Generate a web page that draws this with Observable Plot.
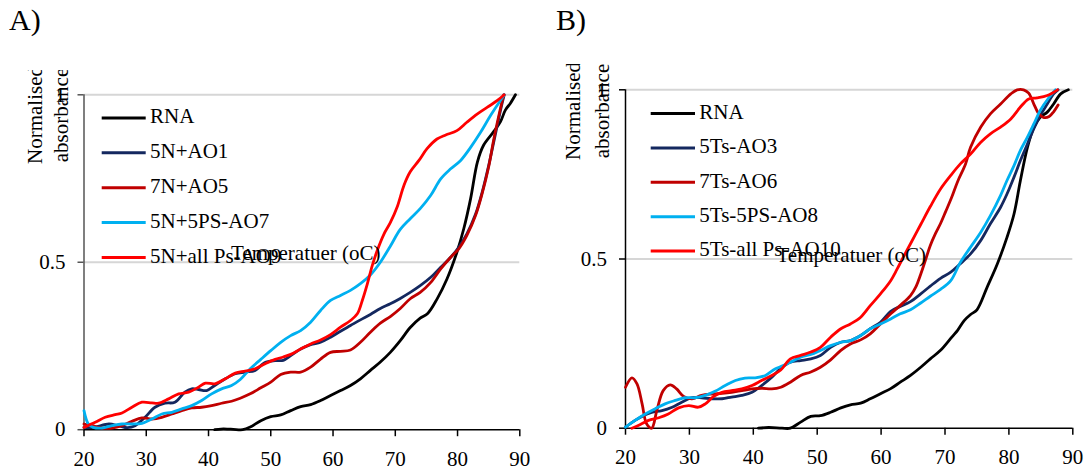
<!DOCTYPE html>
<html><head><meta charset="utf-8">
<script src="https://cdn.jsdelivr.net/npm/d3@7"></script>
<script src="https://cdn.jsdelivr.net/npm/@observablehq/plot@0.6"></script>
<style>
body{margin:0;background:#fff;}
#wrap{position:relative;width:1086px;height:472px;overflow:hidden;background:#fff;}
#wrap .panel{position:absolute;top:0;}
#overlay{position:absolute;left:0;top:0;pointer-events:none;}
</style></head><body><div id="wrap"></div>
<script>
// ---- tick labels / categories ----
const xTicks = [20, 30, 40, 50, 60, 70, 80, 90];
const yTicks = [0, 0.5, 1];
const namesA = ["RNA", "5N+AO1", "7N+AO5", "5N+5PS-AO7", "5N+all Ps-AO9"];
const namesB = ["RNA", "5Ts-AO3", "7Ts-AO6", "5Ts-5PS-AO8", "5Ts-all Ps-AO10"];
const colors = ["#000000", "#14285f", "#c00000", "#00b0f0", "#ff0000"];
const panelTitles = ["A)", "B)"];
const xTitle = "Temperatuer (oC)";
const yTitle = ["Normalised", "absorbance"];

// ---- Panel A series: [temperature, normalised absorbance] ----
const rnaA = [[41,0],[42,0.002],[43,0.002],[44,0.001],[45.5,0],[46.7,0.008],[48.4,0.027],[50,0.039],[51.6,0.044],[53.2,0.057],[54.8,0.069],[56.4,0.075],[58,0.087],[59.6,0.102],[61.2,0.117],[62.8,0.132],[64.4,0.152],[66,0.177],[67.6,0.202],[69.2,0.231],[70.8,0.266],[72.4,0.305],[74,0.333],[75.2,0.347],[76.7,0.39],[78.3,0.45],[79.9,0.53],[81,0.6],[82.1,0.69],[83.2,0.8],[84.2,0.85],[85.8,0.89],[86.9,0.92],[87.7,0.955],[88.5,0.975],[89.3,1]];
const ao1 = [[20,0.007],[21.5,0.007],[24,0.017],[25.5,0.012],[27,0.006],[28.2,0.012],[29.8,0.037],[31.4,0.067],[33,0.079],[34.6,0.082],[36.2,0.112],[37.3,0.122],[38.4,0.12],[39.7,0.117],[41,0.132],[42.7,0.152],[44.3,0.167],[45.9,0.172],[47.5,0.177],[49,0.2],[50.7,0.206],[52,0.207],[53.2,0.221],[54.8,0.241],[56.4,0.254],[58,0.261],[59.6,0.276],[61.2,0.294],[62.8,0.311],[64.4,0.328],[66,0.344],[67.6,0.362],[69.2,0.376],[70.8,0.392],[72.4,0.41],[74,0.43],[75.7,0.455],[77.3,0.485],[78.9,0.515],[80.2,0.545],[81.5,0.585],[82.9,0.644],[83.95,0.709],[85,0.789],[85.8,0.858],[86.6,0.928],[87.2,0.978],[87.5,1]];
const ao5 = [[20,0.017],[21.3,0.012],[22.9,0.005],[24.5,0.005],[26.1,0.012],[27.7,0.025],[29.3,0.035],[30.9,0.032],[32.5,0.037],[34.1,0.047],[35.7,0.057],[37.3,0.065],[38.9,0.067],[40.5,0.072],[42.1,0.079],[43.7,0.085],[45.1,0.094],[46.7,0.107],[48.4,0.125],[50,0.142],[51.6,0.165],[53.2,0.172],[54.8,0.172],[56.4,0.187],[58,0.211],[59.6,0.231],[61.2,0.234],[62.8,0.238],[64.4,0.261],[66,0.291],[67.6,0.318],[69.2,0.338],[70.8,0.362],[72.4,0.391],[74,0.41],[75.7,0.44],[77.3,0.48],[78.9,0.515],[80.2,0.54],[81.5,0.58],[82.9,0.64],[83.95,0.705],[85,0.785],[85.8,0.865],[86.6,0.935],[87.4,1]];
const ao7 = [[20,0.057],[20.7,0.017],[21.5,0.007],[22.9,0.005],[24.5,0.012],[26.1,0.017],[27.7,0.017],[29.3,0.019],[30.9,0.032],[32.5,0.047],[34.1,0.052],[35.7,0.062],[37.3,0.072],[38.9,0.087],[40.5,0.107],[42.1,0.122],[43.7,0.132],[45.1,0.15],[46.7,0.182],[48.4,0.21],[50,0.236],[51.6,0.261],[53.2,0.281],[54.8,0.296],[56.4,0.321],[58,0.356],[59.6,0.386],[61.2,0.401],[62.8,0.416],[64.4,0.436],[66,0.462],[67.6,0.5],[69.2,0.548],[70.8,0.598],[72.4,0.63],[74,0.66],[75.7,0.7],[77.3,0.749],[78.9,0.779],[80.5,0.804],[82.1,0.843],[83.7,0.888],[85.3,0.938],[87.5,1]];
const ao9 = [[20,0.007],[21.8,0.022],[23.4,0.037],[25,0.045],[26.1,0.05],[27.7,0.067],[29.3,0.082],[30.9,0.08],[32,0.079],[33.6,0.092],[35.2,0.107],[36.8,0.112],[38.4,0.127],[39.5,0.139],[41,0.137],[42.7,0.152],[44.3,0.169],[45.9,0.175],[47.5,0.182],[49.1,0.197],[50.7,0.21],[52,0.217],[53.2,0.225],[54.8,0.241],[56.4,0.256],[58,0.268],[59.6,0.284],[61.2,0.306],[62.8,0.326],[63.9,0.346],[64.7,0.386],[65.5,0.435],[66.3,0.49],[67.1,0.535],[68.2,0.585],[69.2,0.618],[70.3,0.665],[71.4,0.73],[72.4,0.77],[73.8,0.804],[75.1,0.839],[76.7,0.868],[78.1,0.88],[79.9,0.893],[81.5,0.918],[83.2,0.943],[84.8,0.963],[86.4,0.983],[87.5,1]];

// ---- Panel B series ----
const rnaB = [[40.8,0],[42.4,0.002],[44.5,0],[45.8,0],[47.4,0.018],[49,0.035],[50.5,0.037],[52.1,0.047],[53.7,0.06],[55.2,0.069],[56.8,0.074],[58.3,0.087],[59.9,0.102],[61.5,0.117],[63,0.136],[64.6,0.156],[66.2,0.18],[67.7,0.205],[69.3,0.23],[71.1,0.27],[72,0.29],[73,0.318],[74,0.336],[75,0.35],[76.6,0.417],[78.2,0.486],[79.7,0.564],[80.8,0.633],[81.8,0.732],[82.9,0.83],[83.9,0.889],[84.9,0.919],[86,0.934],[87,0.958],[88.1,0.988],[89.3,1]];
const ao3 = [[20,0.003],[21.5,0.023],[23.1,0.04],[24.1,0.047],[25.7,0.052],[27.3,0.062],[28.8,0.077],[30.4,0.09],[31.9,0.09],[33.5,0.087],[35.1,0.087],[36.6,0.092],[38.2,0.097],[39.8,0.106],[41.3,0.126],[42.9,0.151],[44.3,0.177],[45.8,0.195],[47.4,0.2],[49,0.205],[50.5,0.215],[52.1,0.239],[53.7,0.254],[55.2,0.259],[56.8,0.274],[58.3,0.294],[59.9,0.313],[61.5,0.345],[63,0.36],[64.6,0.374],[66.2,0.397],[67.7,0.42],[69.3,0.443],[70.9,0.461],[72.4,0.486],[74,0.515],[75.6,0.555],[77.1,0.604],[78.7,0.653],[79.7,0.692],[80.8,0.742],[81.8,0.791],[82.9,0.84],[83.9,0.885],[84.9,0.924],[86,0.958],[87,0.988],[87.7,1]];
const ao6 = [[20,0.121],[21,0.149],[21.8,0.131],[22.6,0.072],[23.3,0.013],[24.1,0],[24.9,0.052],[25.9,0.111],[27,0.128],[28,0.116],[29.1,0.094],[30.4,0.087],[31.9,0.097],[33.5,0.101],[35.1,0.103],[36.6,0.106],[38.2,0.111],[39.8,0.116],[41.3,0.118],[42.9,0.116],[44.3,0.121],[45.8,0.136],[47.4,0.156],[49,0.166],[50.5,0.18],[52.1,0.202],[53.7,0.23],[55.2,0.249],[56.8,0.261],[58.3,0.279],[59.9,0.308],[61.5,0.338],[63,0.363],[64.6,0.392],[65.5,0.42],[66.2,0.455],[67,0.5],[67.7,0.54],[68.5,0.575],[69.3,0.605],[70.1,0.64],[71,0.68],[72,0.73],[73.2,0.78],[74,0.83],[75.6,0.89],[77.1,0.929],[78.7,0.958],[80.3,0.988],[81.3,1],[82.3,1],[83.1,0.99],[83.9,0.958],[84.7,0.929],[85.5,0.918],[86.3,0.921],[87,0.935],[87.7,0.955]];
const ao8 = [[20,0.003],[21.5,0.023],[23.1,0.042],[24.6,0.057],[26.2,0.072],[27.8,0.082],[29.3,0.09],[30.9,0.09],[32.5,0.097],[34,0.109],[35.6,0.126],[37.2,0.141],[38.7,0.148],[40.3,0.149],[41.9,0.156],[43.4,0.175],[44.3,0.182],[45.8,0.195],[47.4,0.21],[49,0.218],[50.5,0.23],[52.1,0.244],[53.7,0.254],[55.2,0.259],[56.8,0.274],[58.3,0.294],[59.9,0.308],[61.5,0.323],[63,0.338],[64.6,0.35],[66.2,0.37],[67.7,0.39],[69.3,0.41],[70.9,0.436],[72.4,0.49],[74,0.535],[75.6,0.579],[77.1,0.628],[78.7,0.688],[79.7,0.732],[80.8,0.776],[81.8,0.821],[82.9,0.86],[83.9,0.899],[84.9,0.939],[86.3,0.978],[87.3,1]];
const ao10 = [[21,0],[22,0.008],[23.6,0.023],[25.2,0.031],[26.7,0.042],[28.3,0.06],[29.9,0.067],[31.4,0.062],[32.5,0.072],[33.8,0.094],[35.1,0.106],[36.6,0.111],[38.2,0.116],[39.8,0.126],[41.3,0.141],[42.9,0.156],[44.3,0.172],[45.8,0.205],[47.4,0.215],[49,0.225],[50.5,0.239],[52.1,0.269],[53.7,0.294],[55.2,0.308],[56.8,0.328],[58.3,0.362],[59.9,0.397],[61.5,0.436],[62.5,0.47],[63.6,0.51],[64.6,0.545],[66.2,0.602],[67.7,0.655],[69.3,0.707],[70.9,0.747],[72.4,0.781],[74,0.81],[75.6,0.845],[77.1,0.87],[78.7,0.89],[80.3,0.914],[81.8,0.949],[83.1,0.973],[84.4,0.976],[86,0.983],[87.6,1]];

const FONT = '"Liberation Serif","Times New Roman",serif';

function panel(names, series, m, yAxisColor) {
  const rows = names.flatMap((n, i) => series[i].map(([t, v]) => ({series: n, t, v})));
  return Plot.plot({
    width: 543, height: 472,
    marginLeft: m[0], marginRight: m[1], marginTop: m[2], marginBottom: m[3],
    x: {domain: [20, 90]},
    y: {domain: [0, 1]},
    color: {domain: names, range: colors},
    style: {fontFamily: FONT, fontSize: "21px", color: "#000", background: "transparent", overflow: "visible"},
    marks: [
      Plot.gridY(yTicks.filter(d => d > 0), {stroke: "#d6d6d6", strokeOpacity: 1, strokeWidth: 2}),
      Plot.ruleX([20], {stroke: yAxisColor, strokeWidth: 1.5}),
      Plot.ruleY([0], {stroke: "#000", strokeWidth: 1.5}),
      Plot.axisY({ticks: yTicks, tickSize: 6, tickPadding: 12.5, label: null, stroke: yAxisColor, strokeWidth: 1.5, tickFormat: d => String(d)}),
      Plot.axisX({ticks: xTicks, tickSize: 7, tickPadding: 14, label: null, stroke: "#000", strokeWidth: 1.5, tickFormat: d => String(d)}),
      Plot.line(rows, {x: "t", y: "v", z: "series", stroke: "series", curve: "catmull-rom", strokeWidth: 2.8})
    ]
  });
}

const wrap = document.getElementById("wrap");
const pA = panel(namesA, [rnaA, ao1, ao5, ao7, ao9], [83.5, 23.7, 94.3, 42.8], "#555555");
pA.classList.add("panel"); pA.style.left = "0px";
const pB = panel(namesB, [rnaB, ao3, ao6, ao8, ao10], [82, 13.7, 89.3, 44.3], "#000000");
pB.classList.add("panel"); pB.style.left = "543px";
wrap.appendChild(pA); wrap.appendChild(pB);

// ---- overlay: panel letters, legends, axis titles ----
const svg = d3.select(wrap).append("svg").attr("id", "overlay")
  .attr("width", 1086).attr("height", 472)
  .style("font-family", FONT).style("font-size", "21px");
const defs = svg.append("defs");
const layouts = [
  {names: namesA, title: panelTitles[0], tx: 9, lx1: 101.7, lx2: 145.7, ltx: 150, lb: 123.3, ls: 34.85,
   xtx: 231, xtb: 260, yb1: 42, yb2: 67.5, ycy: 115, clipTop: 70},
  {names: namesB, title: panelTitles[1], tx: 556, lx1: 650.7, lx2: 695, ltx: 699.3, lb: 118.8, ls: 34.4,
   xtx: 776.5, xtb: 261.7, yb1: 579.5, yb2: 609, ycy: 111, clipTop: 64}
];
layouts.forEach((L, p) => {
  svg.append("text").attr("x", L.tx).attr("y", 30).style("font-size", "30px").text(L.title);
  const lg = svg.append("g");
  L.names.forEach((n, i) => {
    const b = L.lb + i * L.ls;
    lg.append("line").attr("x1", L.lx1).attr("x2", L.lx2).attr("y1", b - 5.3).attr("y2", b - 5.3)
      .attr("stroke", colors[i]).attr("stroke-width", 3);
    lg.append("text").attr("x", L.ltx).attr("y", b).text(n);
  });
  svg.append("text").attr("x", L.xtx).attr("y", L.xtb).text(xTitle);
  const cid = "yclip" + p;
  defs.append("clipPath").attr("id", cid).append("rect")
    .attr("x", p * 543).attr("y", L.clipTop).attr("width", 120).attr("height", 200);
  const yg = svg.append("g").attr("clip-path", `url(#${cid})`);
  [L.yb1, L.yb2].forEach((bx, k) => {
    yg.append("text").attr("text-anchor", "middle")
      .attr("transform", `translate(${bx},${L.ycy}) rotate(-90)`).text(yTitle[k]);
  });
});
</script></body></html>
